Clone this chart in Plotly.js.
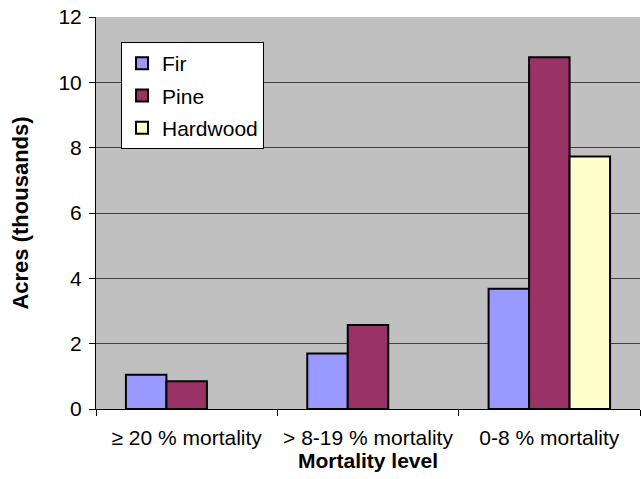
<!DOCTYPE html>
<html>
<head>
<meta charset="utf-8">
<script src="https://cdn.plot.ly/plotly-3.0.1.min.js"></script>
<style>body{margin:0;padding:0;background:#fff}#chart{width:641px;height:479px}</style>
</head>
<body>
<div id="chart"></div>
<script>
const categories = ["≥ 20 % mortality", "> 8-19 % mortality", "0-8 % mortality"];
const firValues = [1.05, 1.7, 3.68];
const pineValues = [0.85, 2.57, 10.77];
const hardwoodValues = [0, 0, 7.73];
const seriesNames = ["Fir", "Pine", "Hardwood"];
const seriesColors = ["#9999FF", "#993366", "#FFFFCC"];
const yTickValues = [0, 2, 4, 6, 8, 10, 12];

const allValues = [firValues, pineValues, hardwoodValues];
// zero values have no visible bar in the source chart
const traces = allValues.map((vals, i) => ({
  type: "bar",
  name: seriesNames[i],
  x: categories,
  y: vals.map(v => (v === 0 ? null : v)),
  legendgroup: "g" + i,
  marker: {color: seriesColors[i], line: {color: "#000000", width: 2}}
}));

const font = "'Liberation Sans', Arial, sans-serif";
const layout = {
  width: 641, height: 479,
  margin: {l: 96, r: 1, t: 17, b: 70},
  paper_bgcolor: "#ffffff",
  plot_bgcolor: "#C0C0C0",
  font: {family: font, size: 21, color: "#000"},
  barmode: "group",
  bargap: 0.33,
  bargroupgap: 0,
  showlegend: true,
  legend: {
    x: 0.046, y: 0.936, xanchor: "left", yanchor: "top",
    bgcolor: "#ffffff", bordercolor: "#000000", borderwidth: 1,
    font: {family: font, size: 21, color: "#000"},
    tracegroupgap: 2,
    itemwidth: 30
  },
  xaxis: {
    type: "category",
    tickson: "boundaries",
    ticks: "outside", ticklen: 6, tickcolor: "#000",
    showline: true, linecolor: "#000", linewidth: 1,
    showgrid: false,
    automargin: false,
    ticklabelstandoff: 10,
    tickfont: {family: font, size: 21},
    title: {text: "<b>Mortality level</b>", font: {family: font, size: 21}, standoff: 2}
  },
  yaxis: {
    range: [0, 12],
    tickvals: yTickValues,
    ticks: "outside", ticklen: 6, tickcolor: "#000",
    showline: true, linecolor: "#000", linewidth: 1,
    showgrid: true, gridcolor: "#3f3f3f", gridwidth: 1,
    zeroline: false,
    automargin: false,
    ticklabelstandoff: 3,
    tickfont: {family: font, size: 21},
    title: {text: "<b>Acres (thousands)</b>", font: {family: font, size: 22}, standoff: 23}
  }
};

Plotly.newPlot("chart", traces, layout, {displayModeBar: false, staticPlot: true});
</script>
</body>
</html>
